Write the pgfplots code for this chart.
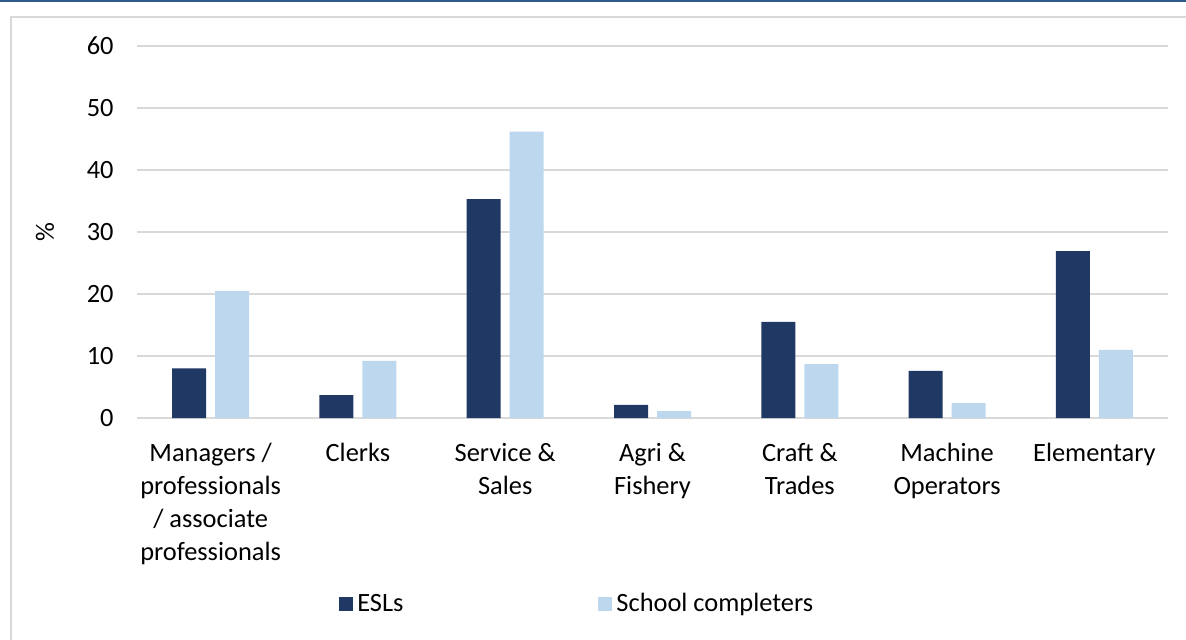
\documentclass[border=0pt]{standalone}
\usepackage{fontspec}
\setmainfont{Carlito}
\usepackage{pgfplots}
\pgfplotsset{compat=1.18}

\definecolor{esl}{HTML}{203864}
\definecolor{compl}{HTML}{BDD7EE}
\definecolor{gridgray}{HTML}{D9D9D9}
\definecolor{topblue}{HTML}{2E5A8E}

\begin{document}
\begin{tikzpicture}[font=\fontsize{13.2}{16.5}\selectfont]
\begin{axis}[
    scale only axis,
    width=515.5pt, height=186pt,
    at={(0,0)}, anchor=south west,
    ybar=4.5pt, bar width=17pt,
    xmin=-0.5, xmax=6.5,
    ymin=0, ymax=60,
    xtick={0,...,6},
    xticklabels={
        {Managers /\\professionals\\/ associate\\professionals},
        Clerks,
        {Service \&\\Sales},
        {Agri \&\\Fishery},
        {Craft \&\\Trades},
        {Machine\\Operators},
        Elementary},
    xticklabel style={align=center, anchor=north, yshift=-9pt},
    ytick={0,10,...,60},
    yticklabel style={anchor=east, xshift=-8.2pt},
    /pgf/number format/assume math mode=true,
    major tick length=0pt,
    axis line style={draw=none},
    ymajorgrids,
    grid style={gridgray, line width=0.75pt},
    ylabel={\%},
    ylabel style={at={(rel axis cs:-0.0892,0.5)}, anchor=center},
    legend columns=2,
    legend style={draw=none, fill=none, at={(rel axis cs:0.19,-0.5)}, anchor=west,
        /tikz/every even column/.append style={column sep=95.5pt}},
    legend image code/.code={\fill[#1] (0pt,-3.5pt) rectangle (7pt,3.5pt);},
]
\addplot[fill=esl, draw=none] coordinates {
    (0,8.0) (1,3.7) (2,35.3) (3,2.1) (4,15.5) (5,7.6) (6,26.9)
};
\addplot[fill=compl, draw=none] coordinates {
    (0,20.5) (1,9.2) (2,46.2) (3,1.1) (4,8.7) (5,2.4) (6,11.0)
};
\legend{ESLs, School completers}
\end{axis}
\path[use as bounding box] (-68.5pt,-110.5pt) rectangle (524.5pt,209pt);
\draw[gridgray, line width=0.75pt] (-63pt,-120pt) -- (-63pt,200.5pt) -- (530pt,200.5pt);
\draw[topblue, line width=1pt] (-70pt,208.5pt) -- (530pt,208.5pt);
\end{tikzpicture}
\end{document}
